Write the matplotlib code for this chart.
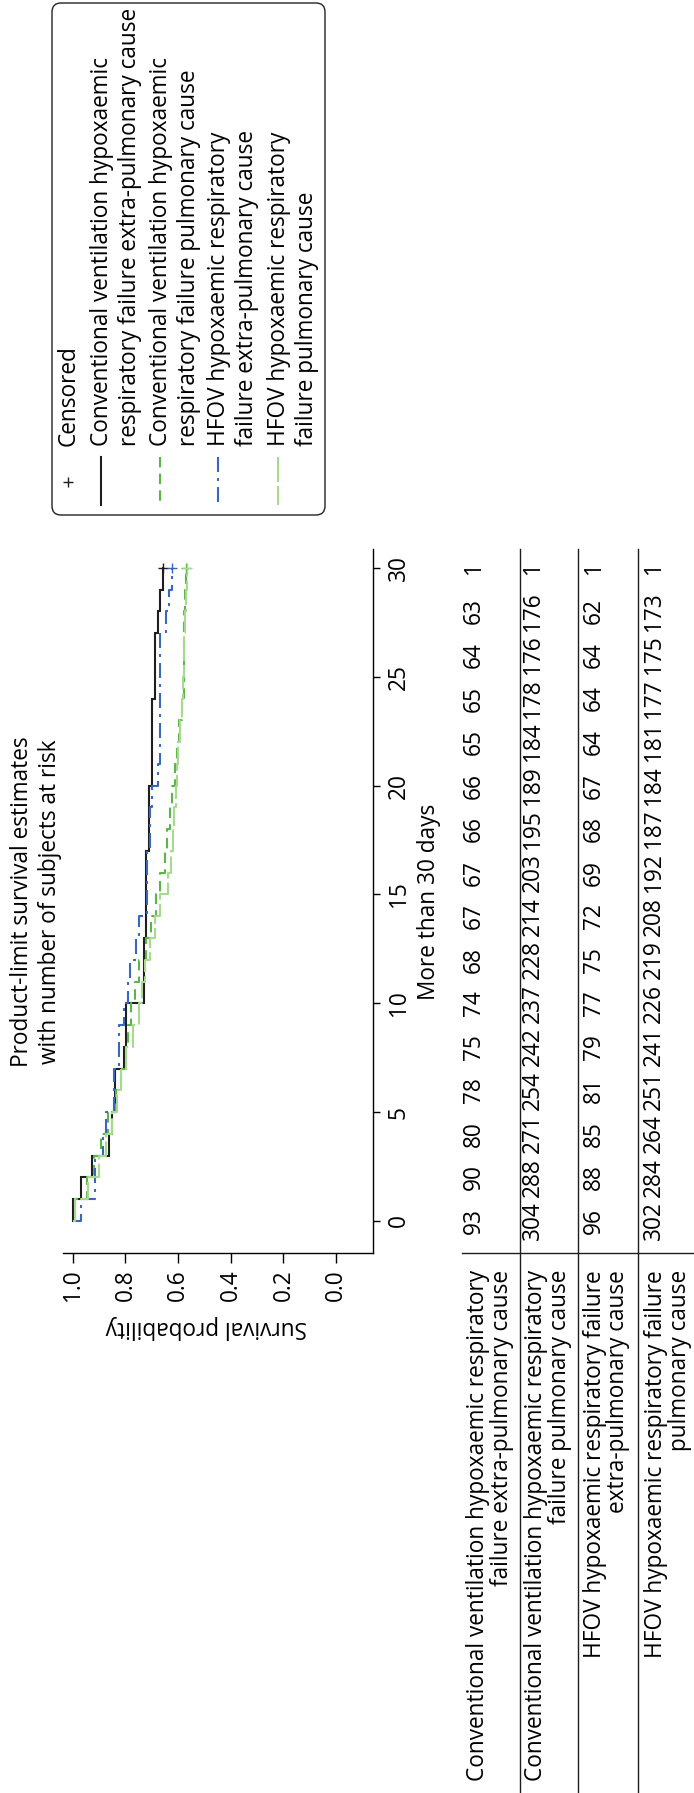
import matplotlib
matplotlib.use("Agg")
import matplotlib.pyplot as plt
from matplotlib.transforms import blended_transform_factory
from matplotlib.patches import FancyBboxPatch

# ---------------- data ----------------
title_lines = ["Product-limit survival estimates", "with number of subjects at risk"]
time_axis_title = "More than 30 days"
surv_axis_title = "Survival probability"
time_ticks = [0, 5, 10, 15, 20, 25, 30]
surv_ticks = [1.0, 0.8, 0.6, 0.4, 0.2, 0.0]
surv_tick_labels = ["1.0", "0.8", "0.6", "0.4", "0.2", "0.0"]

legend_censored = "Censored"
legend_labels = [
    ["Conventional ventilation hypoxaemic", "respiratory failure extra-pulmonary cause"],
    ["Conventional ventilation hypoxaemic", "respiratory failure pulmonary cause"],
    ["HFOV hypoxaemic respiratory", "failure extra-pulmonary cause"],
    ["HFOV hypoxaemic respiratory", "failure pulmonary cause"],
]
table_labels = [
    ["Conventional ventilation hypoxaemic respiratory", "failure extra-pulmonary cause"],
    ["Conventional ventilation hypoxaemic respiratory", "failure pulmonary cause"],
    ["HFOV hypoxaemic respiratory failure", "extra-pulmonary cause"],
    ["HFOV hypoxaemic respiratory failure", "pulmonary cause"],
]

# Kaplan-Meier steps: time of each step and survival after it
cv_extra_time = [0, 1, 2, 3, 4, 5, 7, 8, 10, 13, 17, 20, 24, 27, 28, 29, 30]
cv_extra_surv = [1.0, 0.968, 0.925, 0.861, 0.850, 0.839, 0.807, 0.796, 0.731,
                 0.720, 0.710, 0.699, 0.688, 0.677, 0.667, 0.656, 0.656]

cv_pulm_time = [0, 0, 1, 2, 3, 4, 5, 6, 7, 8, 9, 10, 11, 12, 13, 14, 15, 16, 17,
                18, 19, 20, 21, 22, 23, 24, 28, 29, 30]
cv_pulm_surv = [1.0, 0.990, 0.947, 0.921, 0.891, 0.865, 0.836, 0.816, 0.796, 0.789,
                0.780, 0.763, 0.750, 0.722, 0.704, 0.684, 0.668, 0.650, 0.641,
                0.631, 0.622, 0.612, 0.605, 0.595, 0.586, 0.579, 0.572, 0.569, 0.569]

hfov_extra_time = [0, 0, 1, 3, 4, 5, 7, 9, 10, 11, 12, 13, 14, 17, 19, 20, 21,
                   27, 28, 29, 30]
hfov_extra_surv = [1.0, 0.969, 0.917, 0.885, 0.875, 0.844, 0.823, 0.806, 0.792,
                   0.781, 0.760, 0.750, 0.719, 0.708, 0.698, 0.677, 0.667,
                   0.646, 0.636, 0.625, 0.625]

hfov_pulm_time = [0, 0, 1, 2, 3, 4, 5, 6, 7, 8, 9, 10, 11, 12, 13, 14, 15, 16,
                  17, 18, 19, 20, 21, 22, 23, 24, 25, 26, 27, 28, 29, 30]
hfov_pulm_surv = [1.0, 0.990, 0.941, 0.901, 0.874, 0.852, 0.831, 0.818, 0.798,
                  0.770, 0.748, 0.738, 0.725, 0.707, 0.689, 0.669, 0.637, 0.626,
                  0.619, 0.614, 0.609, 0.604, 0.599, 0.592, 0.586, 0.582, 0.579,
                  0.576, 0.573, 0.570, 0.567, 0.567]

risk_times = [0, 2, 4, 6, 8, 10, 12, 14, 16, 18, 20, 22, 24, 26, 28, 30]
cv_extra_risk = [93, 90, 80, 78, 75, 74, 68, 67, 67, 66, 66, 65, 65, 64, 63, 1]
cv_pulm_risk = [304, 288, 271, 254, 242, 237, 228, 214, 203, 195, 189, 184, 178, 176, 176, 1]
hfov_extra_risk = [96, 88, 85, 81, 79, 77, 75, 72, 69, 68, 67, 64, 64, 64, 62, 1]
hfov_pulm_risk = [302, 284, 264, 251, 241, 226, 219, 208, 192, 187, 184, 181, 177, 175, 173, 1]

# ---------------- style / layout ----------------
W, H, DPI = 694, 1793, 100
FONT = ["Open Sans", "DejaVu Sans"]
plt.rcParams["font.family"] = FONT

curves = [
    (cv_extra_time, cv_extra_surv, dict(color="#1e1e1e", dashes=())),
    (cv_pulm_time, cv_pulm_surv, dict(color="#5cb548", dashes=(5, 3))),
    (hfov_extra_time, hfov_extra_surv, dict(color="#3868bd", dashes=(7.2, 2.9, 1.4, 2.9))),
    (hfov_pulm_time, hfov_pulm_surv, dict(color="#a7d98f", dashes=(12, 2))),
]
risks = [cv_extra_risk, cv_pulm_risk, hfov_extra_risk, hfov_pulm_risk]
LW = 1.5

fig = plt.figure(figsize=(W / DPI, H / DPI), dpi=DPI)

# font size fitted so the long table label matches the reference length
_r = fig.canvas.get_renderer()
_t = fig.text(0, 0, "Conventional ventilation hypoxaemic respiratory", fontsize=14)
FS = 14 * 514 / _t.get_window_extent(_r).width
_t.remove()

# overlay axes in pixel coordinates (y downwards)
bg = fig.add_axes([0, 0, 1, 1], zorder=0)
bg.set_xlim(0, W)
bg.set_ylim(H, 0)
bg.axis("off")

# main survival axes (time vertical, survival horizontal, rotated layout)
AX_L, AX_R, AX_T, AX_B = 63, 372.7, 549, 1253
ax = fig.add_axes([AX_L / W, 1 - AX_B / H, (AX_R - AX_L) / W, (AX_B - AX_T) / H], zorder=1)
ax.patch.set_alpha(0)
ax.set_xlim(1.037, -0.139)
ax.set_ylim(-1.47, 30.87)
for s in ("top", "left"):
    ax.spines[s].set_visible(False)
for s in ("right", "bottom"):
    ax.spines[s].set_linewidth(1.0)
ax.yaxis.tick_right()
ax.set_yticks(time_ticks)
ax.set_yticklabels([str(t) for t in time_ticks], rotation=90, fontsize=FS, va="center")
ax.set_xticks(surv_ticks)
ax.set_xticklabels(surv_tick_labels, rotation=90, fontsize=FS)
ax.tick_params(axis="y", direction="out", length=5, width=1.0, pad=5)
ax.tick_params(axis="x", direction="out", length=7, width=1.0, pad=5)

for tt, ss, st in curves:
    line, = ax.plot(ss, tt, drawstyle="steps-pre", color=st["color"], lw=LW,
                    solid_joinstyle="miter")
    if st["dashes"]:
        line.set_dashes(st["dashes"])
for tt, ss, st in curves:
    ax.plot(ss[-1], tt[-1], marker="+", ms=7, mew=1.0, color=st["color"], ls="none")

# titles
for i, txt in enumerate(title_lines):
    bg.text(22 + 28 * i, 902, txt, rotation=90, ha="center", va="center", fontsize=FS)
bg.text(429, 902, time_axis_title, rotation=90, ha="center", va="center", fontsize=FS)
bg.text(206, 1327, surv_axis_title, rotation=180, ha="center", va="center", fontsize=FS)

# legend
box = FancyBboxPatch((52, 3), 273, 512, boxstyle="round,pad=0,rounding_size=9",
                     fc="white", ec="#222222", lw=1.0)
bg.add_patch(box)
bg.plot([68], [482], marker="+", ms=7, mew=1.0, color="#1e1e1e", ls="none")
bg.text(69, 446, legend_censored, rotation=90, ha="center", va="bottom", fontsize=FS)
entry_x = [101, 160, 218, 278]
for (tt, ss, st), lab, ex in zip(curves, legend_labels, entry_x):
    ln, = bg.plot([ex, ex], [457, 505], color=st["color"], lw=LW)
    if st["dashes"]:
        ln.set_dashes(st["dashes"])
    for j, part in enumerate(lab):
        bg.text(ex + 1 + 28 * j, 446, part, rotation=90, ha="center", va="bottom", fontsize=FS)

# risk table
trans = blended_transform_factory(bg.transData, ax.transData)
row_num_x = [474, 533, 594, 654]
for rx, vals in zip(row_num_x, risks):
    for t, n in zip(risk_times, vals):
        bg.text(rx, t, str(n), transform=trans, rotation=90, ha="center",
                va="center", fontsize=FS)
row_label_x = [[478, 502], [536, 560], [595, 618], [656, 680]]
for lab, xs in zip(table_labels, row_label_x):
    for part, lx in zip(lab, xs):
        bg.text(lx, 1270, part, rotation=90, ha="center", va="top", fontsize=FS)
for lx in [520, 578.5, 638]:
    bg.plot([lx, lx], [549, H], color="#1e1e1e", lw=1.0)
bg.plot([462, W], [1253, 1253], color="#1e1e1e", lw=1.0)

fig.savefig("out.png", dpi=DPI)
